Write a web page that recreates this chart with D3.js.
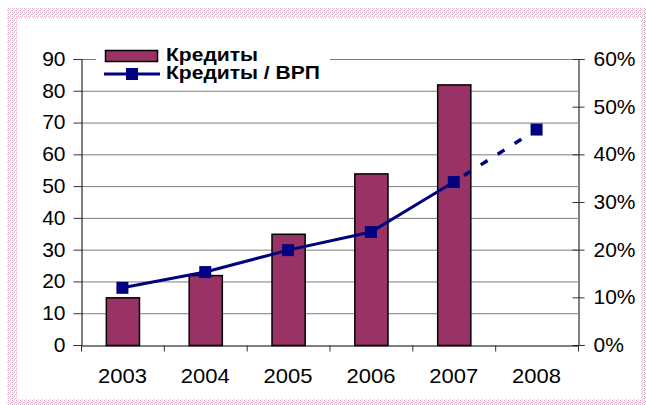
<!DOCTYPE html>
<html>
<head>
<meta charset="utf-8">
<script src="https://cdn.jsdelivr.net/npm/d3@7"></script>
<style>
  body { margin: 0; background: #fff; }
  svg text { font-family: "Liberation Sans", Arial, sans-serif; }
</style>
</head>
<body>
<div id="chart"></div>
<script>
// data
var years = ["2003", "2004", "2005", "2006", "2007", "2008"];
var credits = [15, 22, 35, 54, 82, null];           // bars, left axis
var creditsToGrp = [12, 15.3, 19.9, 23.7, 34.2, 45.2]; // line, right axis (%)
var leftTicks = [0, 10, 20, 30, 40, 50, 60, 70, 80, 90];
var rightTicks = [0, 10, 20, 30, 40, 50, 60];
var legendLabels = ["Кредиты", "Кредиты / ВРП"];

var W = 646, H = 405;
var plot = {left: 81, right: 578, top: 59, bottom: 345};

var svg = d3.select("#chart").append("svg")
    .attr("width", W)
    .attr("height", H);

// the original text is a bit wider than Liberation Sans: stretch it about its anchor
function stretch(sel, k) {
  sel.each(function() {
    var t = d3.select(this), x0 = +t.attr("x") || 0;
    t.attr("transform", "translate(" + x0 + ",0) scale(" + k + ",1) translate(" + (-x0) + ",0)");
  });
}

// dotted frame
var defs = svg.append("defs");
var pat = defs.append("pattern")
    .attr("id", "dots")
    .attr("width", 4).attr("height", 4)
    .attr("patternUnits", "userSpaceOnUse");
pat.append("rect").attr("width", 4).attr("height", 4).attr("fill", "#fff");
[[0, 0], [2, 0], [1, 1], [3, 2], [0, 2], [2, 3]].forEach(function(p, i) {
  pat.append("rect").attr("x", p[0]).attr("y", p[1]).attr("width", 1).attr("height", 1)
    .attr("fill", i % 2 ? "#ecc0d6" : "#e0aac8");
});
svg.append("rect").attr("width", W).attr("height", H).attr("fill", "#fff");
svg.append("path")
    .attr("fill-rule", "evenodd")
    .attr("fill", "url(#dots)")
    .attr("d", "M7,8H652V410H7Z M17,18H641V399H17Z");

var x = d3.scaleBand()
    .domain(years)
    .range([plot.left, plot.right])
    .paddingInner(0.6)
    .paddingOuter(0.3);

var yL = d3.scaleLinear().domain([0, 90]).range([plot.bottom, plot.top]);
var yR = d3.scaleLinear().domain([0, 60]).range([plot.bottom, plot.top]);

// gridlines
svg.append("g").selectAll("line")
  .data(leftTicks.filter(d => d > 0))
  .join("line")
    .attr("x1", plot.left).attr("x2", plot.right)
    .attr("y1", d => yL(d) + 0.5).attr("y2", d => yL(d) + 0.5)
    .attr("stroke", "#7f7f7f").attr("stroke-width", 1);

// bars
svg.append("g").selectAll("rect")
  .data(years.map((y, i) => ({year: y, v: credits[i]})).filter(d => d.v != null))
  .join("rect")
    .attr("x", d => x(d.year) + 0.5)
    .attr("y", d => yL(d.v) + 0.5)
    .attr("width", x.bandwidth())
    .attr("height", d => yL(0) - yL(d.v))
    .attr("fill", "#993366")
    .attr("stroke", "#000")
    .attr("stroke-width", 1.5);

// left axis
var axL = svg.append("g")
    .attr("transform", "translate(" + (plot.left + 0.5) + ",0)")
    .call(d3.axisLeft(yL).tickValues(leftTicks).tickSize(8).tickPadding(8));
axL.select(".domain").attr("stroke", "#000");
axL.selectAll(".tick line").attr("stroke", "#333");
axL.selectAll("text").attr("font-size", 20).attr("fill", "#000").call(stretch, 1.05);

// right axis (ticks cross the line)
var axR = svg.append("g")
    .attr("transform", "translate(" + (plot.right + 0.5) + ",0)")
    .call(d3.axisRight(yR).tickValues(rightTicks).tickSize(6).tickPadding(9)
      .tickFormat(d => d + "%"));
axR.select(".domain").attr("stroke", "#000");
axR.selectAll(".tick line").attr("x1", -6).attr("stroke", "#333");
axR.selectAll("text").attr("font-size", 20).attr("fill", "#000").call(stretch, 1.05);

// bottom axis: ticks at category boundaries
var axB = svg.append("g")
    .attr("transform", "translate(0," + (plot.bottom + 0.5) + ")")
    .call(d3.axisBottom(x).tickSize(0).tickPadding(23));
axB.select(".domain").attr("stroke", "#000");
axB.selectAll("text").attr("font-size", 20).attr("fill", "#000").call(stretch, 1.1);
axB.selectAll(".bound")
  .data(d3.range(years.length + 1))
  .join("line")
    .attr("class", "bound")
    .attr("x1", i => plot.left + 0.5 + i * (plot.right - plot.left) / years.length)
    .attr("x2", i => plot.left + 0.5 + i * (plot.right - plot.left) / years.length)
    .attr("y1", 0).attr("y2", 6)
    .attr("stroke", "#333");

// line series
var pts = years.map((y, i) => ({year: y, v: creditsToGrp[i]}));
var cx = d => x(d.year) + x.bandwidth() / 2;
var line = d3.line().x(cx).y(d => yR(d.v));

svg.append("path")
    .datum(pts.slice(0, 5))
    .attr("d", line)
    .attr("fill", "none")
    .attr("stroke", "#000080")
    .attr("stroke-width", 3);

svg.append("path")
    .datum(pts.slice(4))
    .attr("d", line)
    .attr("fill", "none")
    .attr("stroke", "#000080")
    .attr("stroke-width", 3.5)
    .attr("stroke-dasharray", "8,12")
    .attr("stroke-dashoffset", -12);

svg.append("g").selectAll("rect")
  .data(pts)
  .join("rect")
    .attr("x", d => cx(d) - 6)
    .attr("y", d => yR(d.v) - 6)
    .attr("width", 12).attr("height", 12)
    .attr("fill", "#000080");

// legend
var lg = svg.append("g");
lg.append("rect")
    .attr("x", 96).attr("y", 44).attr("width", 234).attr("height", 42)
    .attr("fill", "#fff");
lg.append("rect")
    .attr("x", 105.5).attr("y", 50.5).attr("width", 52).attr("height", 11)
    .attr("fill", "#993366").attr("stroke", "#000").attr("stroke-width", 1.5);
lg.append("line")
    .attr("x1", 104).attr("x2", 160).attr("y1", 74).attr("y2", 74)
    .attr("stroke", "#000080").attr("stroke-width", 3);
lg.append("rect")
    .attr("x", 126).attr("y", 68).attr("width", 12).attr("height", 12)
    .attr("fill", "#000080");
lg.selectAll("text.lab")
  .data(legendLabels)
  .join("text")
    .attr("class", "lab")
    .attr("x", 166)
    .attr("y", (d, i) => 61.5 + i * 17.5)
    .attr("font-size", 18)
    .attr("font-weight", "bold")
    .attr("fill", "#000")
    .text(d => d)
    .call(stretch, 1.17);
</script>
</body>
</html>
